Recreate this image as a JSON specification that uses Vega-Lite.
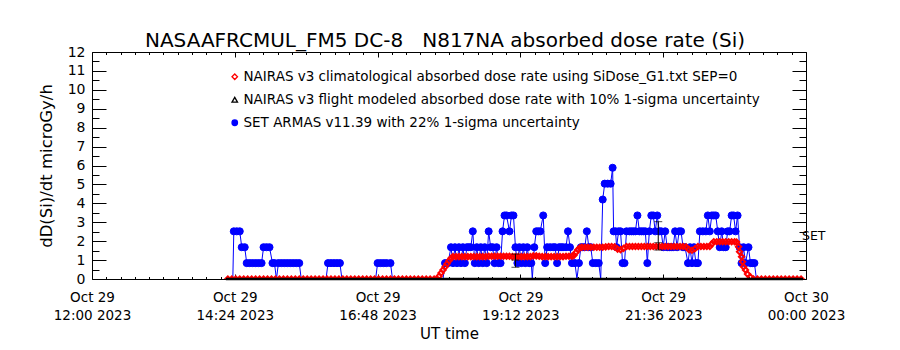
{
"$schema":"https://vega.github.io/schema/vega-lite/v6.json",
"autosize":{"type":"none"},
"width":714,"height":227,
"padding":{"left":92,"top":52,"right":94,"bottom":71},
"background":"white",
"title":{"text":"NASAAFRCMUL_FM5 DC-8\u00a0\u00a0 N817NA absorbed dose rate (Si)","font":"DejaVu Sans","fontSize":20,"fontWeight":"normal","color":"black","anchor":"middle","offset":-6,"dx":-4},
"datasets":{
"armas":[{"ut_min":142,"dose":0},{"ut_min":143,"dose":2.52},{"ut_min":146,"dose":2.52},{"ut_min":149,"dose":2.52},{"ut_min":151,"dose":1.68},{"ut_min":154,"dose":1.68},{"ut_min":156,"dose":0.84},{"ut_min":159,"dose":0.84},{"ut_min":162,"dose":0.84},{"ut_min":165,"dose":0.84},{"ut_min":168,"dose":0.84},{"ut_min":171,"dose":0.84},{"ut_min":173,"dose":1.68},{"ut_min":176,"dose":1.68},{"ut_min":179,"dose":1.68},{"ut_min":182,"dose":0.84},{"ut_min":184,"dose":0.84},{"ut_min":186,"dose":0},{"ut_min":188,"dose":0.84},{"ut_min":191,"dose":0.84},{"ut_min":194,"dose":0.84},{"ut_min":197,"dose":0.84},{"ut_min":200,"dose":0.84},{"ut_min":203,"dose":0.84},{"ut_min":206,"dose":0.84},{"ut_min":209,"dose":0.84},{"ut_min":211,"dose":0},{"ut_min":236,"dose":0},{"ut_min":238,"dose":0.84},{"ut_min":241,"dose":0.84},{"ut_min":244,"dose":0.84},{"ut_min":247,"dose":0.84},{"ut_min":250,"dose":0.84},{"ut_min":252,"dose":0},{"ut_min":286,"dose":0},{"ut_min":288,"dose":0.84},{"ut_min":291,"dose":0.84},{"ut_min":294,"dose":0.84},{"ut_min":297,"dose":0.84},{"ut_min":301,"dose":0.84},{"ut_min":303,"dose":0},{"ut_min":354,"dose":0},
{"ut_min":356,"dose":0.84},{"ut_min":359,"dose":0.84},{"ut_min":362,"dose":1.68},{"ut_min":364,"dose":0.84},{"ut_min":366,"dose":1.68},{"ut_min":368,"dose":0.84},{"ut_min":370,"dose":1.68},{"ut_min":372,"dose":0.84},{"ut_min":374,"dose":1.68},{"ut_min":376,"dose":0.84},{"ut_min":378,"dose":1.68},{"ut_min":380,"dose":1.68},{"ut_min":382,"dose":1.68},{"ut_min":384,"dose":2.52},{"ut_min":386,"dose":0.84},{"ut_min":388,"dose":1.68},{"ut_min":390,"dose":0.84},{"ut_min":392,"dose":1.68},{"ut_min":394,"dose":0.84},{"ut_min":396,"dose":1.68},{"ut_min":398,"dose":0.84},{"ut_min":400,"dose":2.52},{"ut_min":402,"dose":1.68},{"ut_min":404,"dose":1.68},{"ut_min":406,"dose":0.84},{"ut_min":408,"dose":1.68},{"ut_min":410,"dose":0.84},{"ut_min":412,"dose":0.84},{"ut_min":414,"dose":2.52},{"ut_min":416,"dose":3.36},{"ut_min":418,"dose":3.36},{"ut_min":421,"dose":2.52},{"ut_min":423,"dose":3.36},{"ut_min":425,"dose":3.36},{"ut_min":427,"dose":1.68},{"ut_min":429,"dose":0.84},{"ut_min":431,"dose":1.68},{"ut_min":433,"dose":0.84},{"ut_min":435,"dose":1.68},{"ut_min":437,"dose":0.84},{"ut_min":439,"dose":1.68},{"ut_min":441,"dose":0.84},{"ut_min":443,"dose":0.84},{"ut_min":444,"dose":0},{"ut_min":446,"dose":1.68},{"ut_min":448,"dose":2.52},{"ut_min":450,"dose":2.52},{"ut_min":452,"dose":2.52},{"ut_min":455,"dose":3.36},{"ut_min":457,"dose":0.84},{"ut_min":459,"dose":1.68},{"ut_min":462,"dose":1.68},{"ut_min":465,"dose":1.68},{"ut_min":467,"dose":1.68},{"ut_min":469,"dose":0.84},{"ut_min":471,"dose":1.68},{"ut_min":473,"dose":1.68},{"ut_min":475,"dose":1.68},{"ut_min":478,"dose":1.68},{"ut_min":480,"dose":2.52},{"ut_min":482,"dose":1.68},{"ut_min":484,"dose":0.84},{"ut_min":487,"dose":0.84},{"ut_min":489,"dose":0},{"ut_min":491,"dose":0.84},{"ut_min":493,"dose":1.68},{"ut_min":495,"dose":1.68},{"ut_min":497,"dose":1.68},{"ut_min":499,"dose":2.52},{"ut_min":501,"dose":1.68},{"ut_min":503,"dose":1.68},{"ut_min":505,"dose":0.84},{"ut_min":508,"dose":0.84},{"ut_min":511,"dose":0.84},{"ut_min":513,"dose":0},{"ut_min":515,"dose":4.2},{"ut_min":517,"dose":5.04},{"ut_min":520,"dose":5.04},{"ut_min":523,"dose":5.04},{"ut_min":525,"dose":5.88},{"ut_min":526,"dose":2.52},{"ut_min":528,"dose":2.52},{"ut_min":529,"dose":1.68},{"ut_min":531,"dose":2.52},{"ut_min":533,"dose":2.52},{"ut_min":535,"dose":0.84},{"ut_min":537,"dose":0.84},{"ut_min":539,"dose":2.52},{"ut_min":542,"dose":2.52},{"ut_min":544,"dose":2.52},{"ut_min":546,"dose":2.52},{"ut_min":548,"dose":2.52},{"ut_min":550,"dose":3.36},{"ut_min":552,"dose":2.52},{"ut_min":554,"dose":2.52},{"ut_min":556,"dose":2.52},{"ut_min":558,"dose":2.52},{"ut_min":560,"dose":0.84},{"ut_min":562,"dose":2.52},{"ut_min":564,"dose":3.36},{"ut_min":566,"dose":3.36},{"ut_min":568,"dose":2.52},{"ut_min":570,"dose":3.36},{"ut_min":572,"dose":2.52},{"ut_min":574,"dose":2.52},{"ut_min":576,"dose":1.68},{"ut_min":578,"dose":2.52},{"ut_min":580,"dose":1.68},{"ut_min":582,"dose":1.68},{"ut_min":584,"dose":1.68},{"ut_min":586,"dose":1.68},{"ut_min":588,"dose":2.52},{"ut_min":590,"dose":1.68},{"ut_min":592,"dose":2.52},{"ut_min":594,"dose":2.52},{"ut_min":596,"dose":1.68},{"ut_min":598,"dose":1.68},{"ut_min":601,"dose":0.84},{"ut_min":603,"dose":1.68},{"ut_min":605,"dose":0.84},{"ut_min":607,"dose":1.68},{"ut_min":609,"dose":0.84},{"ut_min":611,"dose":0.84},{"ut_min":613,"dose":2.52},{"ut_min":616,"dose":2.52},{"ut_min":619,"dose":2.52},{"ut_min":621,"dose":3.36},{"ut_min":623,"dose":2.52},{"ut_min":625,"dose":3.36},{"ut_min":627,"dose":3.36},{"ut_min":629,"dose":3.36},{"ut_min":631,"dose":2.52},{"ut_min":633,"dose":1.68},{"ut_min":635,"dose":2.52},{"ut_min":637,"dose":1.68},{"ut_min":639,"dose":1.68},{"ut_min":641,"dose":2.52},{"ut_min":643,"dose":2.52},{"ut_min":645,"dose":3.36},{"ut_min":647,"dose":3.36},{"ut_min":649,"dose":2.52},{"ut_min":651,"dose":3.36},{"ut_min":653,"dose":1.68},{"ut_min":655,"dose":0.84},{"ut_min":657,"dose":1.68},{"ut_min":659,"dose":0.84},{"ut_min":662,"dose":1.68},{"ut_min":664,"dose":0.84},{"ut_min":666,"dose":0.84},{"ut_min":668,"dose":0.84},{"ut_min":670,"dose":0}],
"nairas_clim":[{"ut_min":137,"dose":0},{"ut_min":141,"dose":0},{"ut_min":145,"dose":0},{"ut_min":149,"dose":0},{"ut_min":153,"dose":0},{"ut_min":157,"dose":0},{"ut_min":161,"dose":0},{"ut_min":165,"dose":0},{"ut_min":169,"dose":0},{"ut_min":173,"dose":0},{"ut_min":177,"dose":0},{"ut_min":181,"dose":0},{"ut_min":185,"dose":0},{"ut_min":189,"dose":0},{"ut_min":193,"dose":0},{"ut_min":197,"dose":0},{"ut_min":201,"dose":0},{"ut_min":205,"dose":0},{"ut_min":209,"dose":0},{"ut_min":213,"dose":0},{"ut_min":217,"dose":0},{"ut_min":221,"dose":0},{"ut_min":225,"dose":0},{"ut_min":229,"dose":0},{"ut_min":233,"dose":0},{"ut_min":237,"dose":0},{"ut_min":241,"dose":0},{"ut_min":245,"dose":0},{"ut_min":249,"dose":0},{"ut_min":253,"dose":0},{"ut_min":257,"dose":0},{"ut_min":261,"dose":0},{"ut_min":265,"dose":0},{"ut_min":269,"dose":0},{"ut_min":273,"dose":0},{"ut_min":277,"dose":0},{"ut_min":281,"dose":0},{"ut_min":285,"dose":0},{"ut_min":289,"dose":0},{"ut_min":293,"dose":0},{"ut_min":297,"dose":0},{"ut_min":301,"dose":0},{"ut_min":305,"dose":0},{"ut_min":309,"dose":0},{"ut_min":313,"dose":0},{"ut_min":317,"dose":0},{"ut_min":321,"dose":0},{"ut_min":325,"dose":0},{"ut_min":329,"dose":0},{"ut_min":333,"dose":0},{"ut_min":337,"dose":0},{"ut_min":341,"dose":0},{"ut_min":345,"dose":0},{"ut_min":348,"dose":0},{"ut_min":350,"dose":0.15},{"ut_min":352,"dose":0.32},{"ut_min":354,"dose":0.48},{"ut_min":356,"dose":0.64},{"ut_min":358,"dose":0.8},{"ut_min":360,"dose":0.96},{"ut_min":362,"dose":1.1},{"ut_min":364,"dose":1.18},{"ut_min":367,"dose":1.18},{"ut_min":370,"dose":1.18},{"ut_min":373,"dose":1.18},{"ut_min":376,"dose":1.18},{"ut_min":379,"dose":1.18},{"ut_min":382,"dose":1.18},{"ut_min":385,"dose":1.18},{"ut_min":388,"dose":1.18},{"ut_min":391,"dose":1.18},{"ut_min":394,"dose":1.18},{"ut_min":397,"dose":1.18},{"ut_min":400,"dose":1.2},{"ut_min":403,"dose":1.2},{"ut_min":406,"dose":1.2},{"ut_min":409,"dose":1.2},{"ut_min":412,"dose":1.2},{"ut_min":415,"dose":1.2},{"ut_min":418,"dose":1.2},{"ut_min":421,"dose":1.2},{"ut_min":424,"dose":1.18},{"ut_min":427,"dose":1.18},{"ut_min":430,"dose":1.18},{"ut_min":433,"dose":1.18},{"ut_min":436,"dose":1.18},{"ut_min":439,"dose":1.18},{"ut_min":442,"dose":1.18},{"ut_min":445,"dose":1.22},{"ut_min":448,"dose":1.22},{"ut_min":451,"dose":1.2},{"ut_min":454,"dose":1.18},{"ut_min":457,"dose":1.18},{"ut_min":460,"dose":1.18},{"ut_min":463,"dose":1.18},{"ut_min":466,"dose":1.18},{"ut_min":469,"dose":1.18},{"ut_min":472,"dose":1.18},{"ut_min":475,"dose":1.18},{"ut_min":478,"dose":1.2},{"ut_min":481,"dose":1.2},{"ut_min":484,"dose":1.2},{"ut_min":486,"dose":1.25},{"ut_min":488,"dose":1.4},{"ut_min":490,"dose":1.55},{"ut_min":492,"dose":1.65},{"ut_min":494,"dose":1.68},{"ut_min":497,"dose":1.68},{"ut_min":500,"dose":1.68},{"ut_min":503,"dose":1.68},{"ut_min":506,"dose":1.68},{"ut_min":509,"dose":1.68},{"ut_min":512,"dose":1.68},{"ut_min":515,"dose":1.68},{"ut_min":518,"dose":1.7},{"ut_min":521,"dose":1.72},{"ut_min":524,"dose":1.72},{"ut_min":527,"dose":1.7},{"ut_min":530,"dose":1.58},{"ut_min":533,"dose":1.55},{"ut_min":536,"dose":1.62},{"ut_min":539,"dose":1.72},{"ut_min":542,"dose":1.72},{"ut_min":545,"dose":1.72},{"ut_min":548,"dose":1.72},{"ut_min":551,"dose":1.72},{"ut_min":554,"dose":1.72},{"ut_min":557,"dose":1.72},{"ut_min":560,"dose":1.72},{"ut_min":563,"dose":1.72},{"ut_min":566,"dose":1.72},{"ut_min":569,"dose":1.72},{"ut_min":572,"dose":1.72},{"ut_min":575,"dose":1.72},{"ut_min":578,"dose":1.72},{"ut_min":581,"dose":1.72},{"ut_min":584,"dose":1.72},{"ut_min":587,"dose":1.72},{"ut_min":590,"dose":1.72},{"ut_min":593,"dose":1.72},{"ut_min":596,"dose":1.72},{"ut_min":599,"dose":1.7},{"ut_min":602,"dose":1.55},{"ut_min":605,"dose":1.52},{"ut_min":608,"dose":1.6},{"ut_min":611,"dose":1.72},{"ut_min":614,"dose":1.72},{"ut_min":617,"dose":1.72},{"ut_min":620,"dose":1.72},{"ut_min":623,"dose":1.72},{"ut_min":625,"dose":1.85},{"ut_min":627,"dose":1.97},{"ut_min":630,"dose":1.97},{"ut_min":633,"dose":1.97},{"ut_min":636,"dose":1.97},{"ut_min":639,"dose":1.97},{"ut_min":642,"dose":1.97},{"ut_min":645,"dose":1.97},{"ut_min":648,"dose":1.97},{"ut_min":650,"dose":1.95},{"ut_min":652,"dose":1.71},{"ut_min":653,"dose":1.44},{"ut_min":655,"dose":1.18},{"ut_min":656,"dose":0.91},{"ut_min":657,"dose":0.65},{"ut_min":659,"dose":0.48},{"ut_min":661,"dose":0.26},{"ut_min":664,"dose":0.1},{"ut_min":667,"dose":0},{"ut_min":671,"dose":0},{"ut_min":675,"dose":0},{"ut_min":679,"dose":0},{"ut_min":683,"dose":0},{"ut_min":687,"dose":0},{"ut_min":691,"dose":0},{"ut_min":695,"dose":0},{"ut_min":699,"dose":0},{"ut_min":703,"dose":0},{"ut_min":707,"dose":0},{"ut_min":711,"dose":0},{"ut_min":715,"dose":0}],
"nairas_flight":[{"ut_min":135,"dose":0},{"ut_min":717,"dose":0}],
"flight_err":[{"ut_min":427,"lo":0.62,"mid":1.0,"hi":1.32},{"ut_min":571,"lo":1.53,"mid":1.92,"hi":3.03}],
"annot":[{"ut_min":716,"dose":2.27,"label":"SET"}]
},
"resolve":{"axis":{"x":"independent","y":"independent"}},
"layer":[
{"data":{"name":"armas"},
 "mark":{"type":"line","strokeWidth":1,"clip":true},
 "encoding":{
  "x":{"field":"ut_min","type":"quantitative","scale":{"domain":[0,720],"nice":false,"zero":false},
   "axis":{"orient":"bottom","title":"UT time","values":[0,14.4,28.8,43.2,57.6,72,86.4,100.8,115.2,129.6,144,158.4,172.8,187.2,201.6,216,230.4,244.8,259.2,273.6,288,302.4,316.8,331.2,345.6,360,374.4,388.8,403.2,417.6,432,446.4,460.8,475.2,489.6,504,518.4,532.8,547.2,561.6,576,590.4,604.8,619.2,633.6,648,662.4,676.8,691.2,705.6,720],
    "tickSize":{"condition":{"test":"abs(datum.value/144-round(datum.value/144))<0.001","value":-5},"value":-2.5},
    "labelExpr":"abs(datum.value/144-round(datum.value/144))<0.001 ? (datum.value>=719 ? ['Oct 30','00:00 2023'] : ['Oct 29', (12+floor(datum.value/60)) + ':' + (round(datum.value%60)<10 ? '0' : '') + round(datum.value%60) + ' 2023']) : ''",
    "labelFontSize":13.5,"labelLineHeight":18,"labelPadding":16,"labelOverlap":false,"labelBound":false,"labelFlush":false,"labelBaseline":"top",
    "titleFontSize":15,"titlePadding":5}},
  "y":{"field":"dose","type":"quantitative","scale":{"domain":[0,12],"nice":false,"zero":false},
   "axis":{"orient":"left","title":"dD(Si)/dt microGy/h","values":[0,0.5,1,1.5,2,2.5,3,3.5,4,4.5,5,5.5,6,6.5,7,7.5,8,8.5,9,9.5,10,10.5,11,11.5,12],
    "tickSize":{"condition":{"test":"datum.value % 1 == 0","value":-14},"value":-7},
    "labelExpr":"datum.value % 1 == 0 ? format(datum.value,'d') : ''",
    "labelFontSize":14,"labelPadding":21,"labelOverlap":false,"labelBound":false,"labelFlush":false,
    "titleFontSize":16.5,"titlePadding":13}},
  "stroke":{"datum":"SET ARMAS v11.39 with 22% 1-sigma uncertainty","type":"nominal",
   "scale":{"domain":["NAIRAS v3 climatological absorbed dose rate using SiDose_G1.txt SEP=0","NAIRAS v3 flight modeled absorbed dose rate with 10% 1-sigma uncertainty","SET ARMAS v11.39 with 22% 1-sigma uncertainty"],"range":["#ff0000","#000000","#0000ff"]},
   "legend":{"title":null}}
 }},
{"data":{"name":"armas"},
 "transform":[{"filter":"datum.dose > 0"}],
 "mark":{"type":"point","size":50,"strokeWidth":1,"opacity":1,"clip":true},
 "encoding":{
  "x":{"field":"ut_min","type":"quantitative","scale":{"domain":[0,720],"nice":false,"zero":false},
   "axis":{"orient":"top","title":null,"labels":false,"values":[0,14.4,28.8,43.2,57.6,72,86.4,100.8,115.2,129.6,144,158.4,172.8,187.2,201.6,216,230.4,244.8,259.2,273.6,288,302.4,316.8,331.2,345.6,360,374.4,388.8,403.2,417.6,432,446.4,460.8,475.2,489.6,504,518.4,532.8,547.2,561.6,576,590.4,604.8,619.2,633.6,648,662.4,676.8,691.2,705.6,720],
    "tickSize":{"condition":{"test":"abs(datum.value/144-round(datum.value/144))<0.001","value":-5},"value":-2.5}}},
  "y":{"field":"dose","type":"quantitative","scale":{"domain":[0,12],"nice":false,"zero":false},
   "axis":{"orient":"right","title":null,"labels":false,"values":[0,0.5,1,1.5,2,2.5,3,3.5,4,4.5,5,5.5,6,6.5,7,7.5,8,8.5,9,9.5,10,10.5,11,11.5,12],
    "tickSize":{"condition":{"test":"datum.value % 1 == 0","value":-14},"value":-7}}},
  "stroke":{"datum":"SET ARMAS v11.39 with 22% 1-sigma uncertainty","type":"nominal",
   "scale":{"domain":["NAIRAS v3 climatological absorbed dose rate using SiDose_G1.txt SEP=0","NAIRAS v3 flight modeled absorbed dose rate with 10% 1-sigma uncertainty","SET ARMAS v11.39 with 22% 1-sigma uncertainty"],"range":["#ff0000","#000000","#0000ff"]},
   "legend":{"title":null}},
  "fill":{"datum":"SET ARMAS v11.39 with 22% 1-sigma uncertainty","type":"nominal",
   "scale":{"domain":["NAIRAS v3 climatological absorbed dose rate using SiDose_G1.txt SEP=0","NAIRAS v3 flight modeled absorbed dose rate with 10% 1-sigma uncertainty","SET ARMAS v11.39 with 22% 1-sigma uncertainty"],"range":["transparent","transparent","#0000ff"]},
   "legend":{"title":null}},
  "shape":{"datum":"SET ARMAS v11.39 with 22% 1-sigma uncertainty","type":"nominal",
   "scale":{"domain":["NAIRAS v3 climatological absorbed dose rate using SiDose_G1.txt SEP=0","NAIRAS v3 flight modeled absorbed dose rate with 10% 1-sigma uncertainty","SET ARMAS v11.39 with 22% 1-sigma uncertainty"],"range":["diamond","triangle-up","circle"]},
   "legend":{"title":null}}
 }},
{"data":{"name":"nairas_clim"},
 "mark":{"type":"point","size":28,"strokeWidth":2,"opacity":1,"clip":true},
 "encoding":{
  "x":{"field":"ut_min","type":"quantitative","scale":{"domain":[0,720],"nice":false,"zero":false},"axis":null},
  "y":{"field":"dose","type":"quantitative","scale":{"domain":[0,12],"nice":false,"zero":false},"axis":null},
  "stroke":{"datum":"NAIRAS v3 climatological absorbed dose rate using SiDose_G1.txt SEP=0","type":"nominal",
   "scale":{"domain":["NAIRAS v3 climatological absorbed dose rate using SiDose_G1.txt SEP=0","NAIRAS v3 flight modeled absorbed dose rate with 10% 1-sigma uncertainty","SET ARMAS v11.39 with 22% 1-sigma uncertainty"],"range":["#ff0000","#000000","#0000ff"]},
   "legend":{"title":null}},
  "fill":{"datum":"NAIRAS v3 climatological absorbed dose rate using SiDose_G1.txt SEP=0","type":"nominal",
   "scale":{"domain":["NAIRAS v3 climatological absorbed dose rate using SiDose_G1.txt SEP=0","NAIRAS v3 flight modeled absorbed dose rate with 10% 1-sigma uncertainty","SET ARMAS v11.39 with 22% 1-sigma uncertainty"],"range":["transparent","transparent","#0000ff"]},
   "legend":{"title":null}},
  "shape":{"datum":"NAIRAS v3 climatological absorbed dose rate using SiDose_G1.txt SEP=0","type":"nominal",
   "scale":{"domain":["NAIRAS v3 climatological absorbed dose rate using SiDose_G1.txt SEP=0","NAIRAS v3 flight modeled absorbed dose rate with 10% 1-sigma uncertainty","SET ARMAS v11.39 with 22% 1-sigma uncertainty"],"range":["diamond","triangle-up","circle"]},
   "legend":{"title":null}}
 }},
{"data":{"name":"nairas_flight"},
 "mark":{"type":"line","strokeWidth":2.5},
 "encoding":{
  "x":{"field":"ut_min","type":"quantitative","scale":{"domain":[0,720],"nice":false,"zero":false},"axis":null},
  "y":{"field":"dose","type":"quantitative","scale":{"domain":[0,12],"nice":false,"zero":false},"axis":null},
  "stroke":{"datum":"NAIRAS v3 flight modeled absorbed dose rate with 10% 1-sigma uncertainty","type":"nominal",
   "scale":{"domain":["NAIRAS v3 climatological absorbed dose rate using SiDose_G1.txt SEP=0","NAIRAS v3 flight modeled absorbed dose rate with 10% 1-sigma uncertainty","SET ARMAS v11.39 with 22% 1-sigma uncertainty"],"range":["#ff0000","#000000","#0000ff"]},
   "legend":{"title":null}}
 }},
{"data":{"name":"flight_err"},
 "mark":{"type":"rule","color":"black","strokeWidth":1},
 "encoding":{
  "x":{"field":"ut_min","type":"quantitative","scale":{"domain":[0,720],"nice":false,"zero":false},"axis":null},
  "y":{"field":"lo","type":"quantitative","scale":{"domain":[0,12],"nice":false,"zero":false},"axis":null},
  "y2":{"field":"hi"}
 }},
{"data":{"name":"flight_err"},
 "transform":[{"fold":["lo","mid","hi"],"as":["cap","dose"]}],
 "mark":{"type":"tick","orient":"horizontal","size":8,"thickness":1,"color":"black"},
 "encoding":{
  "x":{"field":"ut_min","type":"quantitative","scale":{"domain":[0,720],"nice":false,"zero":false},"axis":null},
  "y":{"field":"dose","type":"quantitative","scale":{"domain":[0,12],"nice":false,"zero":false},"axis":null}
 }},
{"data":{"name":"annot"},
 "mark":{"type":"text","align":"left","baseline":"middle","font":"DejaVu Sans","fontSize":12.5,"color":"black"},
 "encoding":{
  "x":{"field":"ut_min","type":"quantitative","scale":{"domain":[0,720],"nice":false,"zero":false},"axis":null},
  "y":{"field":"dose","type":"quantitative","scale":{"domain":[0,12],"nice":false,"zero":false},"axis":null},
  "text":{"field":"label"}
 }}
],
"config":{
 "view":{"stroke":"black","strokeWidth":1,"fill":"white"},
 "font":"DejaVu Sans",
 "axis":{"labelFont":"DejaVu Sans","titleFont":"DejaVu Sans","labelColor":"black","titleColor":"black","tickColor":"black","tickWidth":1,"domain":false,"grid":false,"titleFontWeight":"normal"},
 "legend":{"orient":"none","legendX":136,"legendY":18,"labelFont":"DejaVu Sans","labelFontSize":13.5,"labelColor":"black","labelLimit":800,"symbolSize":30,"symbolStrokeWidth":1.3,"rowPadding":8,"padding":0,"labelOffset":2}
}
}
